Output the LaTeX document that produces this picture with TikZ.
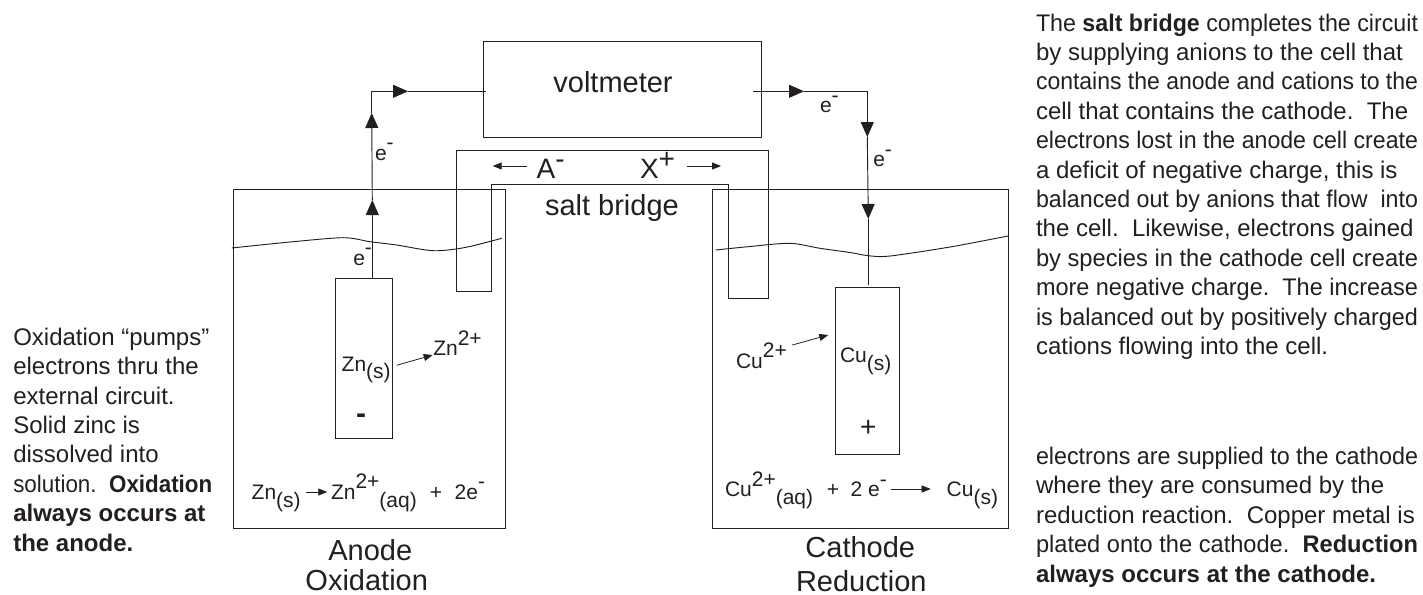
\documentclass[tikz,border=0pt]{standalone}
\usepackage{fontspec}
\usepackage{graphicx}
\setmainfont{Liberation Sans}
\usetikzlibrary{arrows.meta}
\definecolor{ink}{HTML}{231F20}
\newcommand\upr[1]{\raisebox{.5em}{#1}}
\newcommand\upl[1]{\raisebox{.36em}{#1}}
\newcommand\lwr[1]{\raisebox{-.38em}{#1}}
\newsavebox\flbox
% squeeze a line horizontally to a column width, as the reference does
\newcommand\fitl[2]{\sbox\flbox{#2}\ifdim\wd\flbox>#1\relax\resizebox{#1}{\height}{\usebox\flbox}\else\usebox\flbox\fi}
\newcommand\rcol[1]{\fitl{286.5pt}{#1}}
\newcommand\lcol[1]{\fitl{149.25pt}{#1}}
\tikzset{
  line/.style={draw=ink,line width=.7pt},
  wire/.style={line,line cap=butt},
  bighead/.style={wire,-{Triangle[length=11.25pt,width=9.75pt]}},
  smallhead/.style={wire,line width=.6pt,-{Triangle[length=6.75pt,width=5.25pt]}},
  boxnode/.style={line,inner sep=0pt,outer sep=0pt,anchor=north west},
  lab/.style={inner sep=0pt,outer sep=0pt,anchor=base west,text=ink},
  chem/.style={lab,font=\fontsize{15.75}{18}\selectfont},
  big/.style={lab,font=\fontsize{21.75}{26}\selectfont},
  ion/.style={lab,font=\fontsize{21}{25}\selectfont},
  para/.style={lab,align=left,font=\fontsize{18}{22.05}\selectfont},
}
\begin{document}
\begin{tikzpicture}[x=.75pt,y=-.75pt]
\useasboundingbox (0,0) rectangle (1423,594);
% cells
\node[boxnode,minimum width=271.5*.75pt,minimum height=339.2*.75pt] (anodecell) at (233.5,189.5) {};
\node[boxnode,minimum width=295.7*.75pt,minimum height=339.2*.75pt] (cathodecell) at (712.3,189.5) {};
% salt bridge
\draw[line] (456.7,291.7) coordinate (sbA) -- (456.7,150.3) -- (768.7,150.3) -- (768.7,298.7) -- (728.7,298.7) -- (728.7,184.7) -- (491.7,184.7) -- (491.7,291.7) -- cycle;
% solution levels
\draw[line] plot[smooth,tension=.5] coordinates {(231.7,248) (290,242) (343.3,237.7) (370,241.7) (396.7,245) (433.3,250.7) (465,247.5) (501.7,238.3)};
\draw[line] plot[smooth,tension=.5] coordinates {(715.7,250) (750,246.5) (790,243.3) (820,248.3) (850,252.5) (868.3,255.7) (890,256) (950,247) (1008,236)};
% electrodes and voltmeter
\node[boxnode,minimum width=57.4*.75pt,minimum height=160*.75pt] (zn) at (335.3,278.3) {};
\node[boxnode,minimum width=64*.75pt,minimum height=166.3*.75pt] (cu) at (835.3,287.7) {};
\node[boxnode,minimum width=278*.75pt,minimum height=96*.75pt] (volt) at (483,41) {};
\node[big,anchor=base] (volttext) at (613,92) {voltmeter};
% wire coordinates
\coordinate (zntop) at (372.3,278.3);
\coordinate (t1) at (372.3,200);
\coordinate (t2) at (371.7,113);
\coordinate (c1) at (371.7,91.3);
\coordinate (t3) at (408,91.3);
\coordinate (vin) at (485.7,91.3);
\coordinate (vout) at (753,91.3);
\coordinate (t4) at (804,91.3);
\coordinate (c2) at (867.3,91.3);
\coordinate (t5) at (867.3,137);
\coordinate (t6) at (868.3,219);
\coordinate (cutop) at (868.3,285);
\draw[bighead] (zntop) -- (t1);
\draw[bighead] (t1) -- (t2);
\draw[wire] (t2) -- (c1);
\draw[bighead] (c1) -- (t3);
\draw[wire] (t3) -- (vin);
\draw[bighead] (vout) -- (t4);
\draw[wire] (t4) -- (c2);
\draw[bighead] (c2) -- (t5);
\draw[bighead] (t5) -- (t6);
\draw[wire] (t6) -- (cutop);
% electron labels
\node[chem] (e1) at (375,160) {e\upr{-}};
\node[chem] (e2) at (353.3,265) {e\upr{-}};
\node[chem] (e3) at (820,112.7) {e\upr{-}};
\node[chem] (e4) at (873.3,166.7) {e\upr{-}};
% salt bridge labels
\node[ion] (aion) at (536.7,178.3) {A\upl{-}};
\node[ion] (xion) at (640,178.3) {X\upl{+}};
\coordinate (al) at (526.7,166);
\coordinate (ar) at (492.7,166);
\coordinate (xl) at (687.3,166);
\coordinate (xr) at (721,166);
\draw[smallhead] (al) -- (ar);
\draw[smallhead] (xl) -- (xr);
\node[big] (sb) at (545,215) {salt bridge};
% anode labels
\node[chem] (zns) at (341.7,371) {Zn\lwr{(s)}};
\node[chem] (zn2) at (433.3,355.7) {Zn\upr{2+}};
\draw[smallhead] (396.7,365.3) coordinate (za) -- (432.7,355) coordinate (zb);
\node[lab,font=\fontsize{22.5}{26}\selectfont\bfseries,anchor=base] (minus) at (361,423) {-};
\node[chem] (zneq1) at (251.7,499.3) {Zn\lwr{(s)}};
\node[chem] (zneq2) at (331,499.3) {Zn\upr{2+}\lwr{(aq)}\hspace{.62em}+\hspace{.6em}2e\upr{-}};
\draw[smallhead] (306,492) coordinate (zc) -- (327.3,492) coordinate (zd);
\node[big,anchor=base] (anode) at (370.3,560) {Anode};
\node[big,anchor=base] (oxid) at (366.7,590) {Oxidation};
% cathode labels
\node[chem] (cu2) at (736,368.3) {Cu\upr{2+}};
\draw[smallhead] (792.3,345) coordinate (ca) -- (828.3,335) coordinate (cb);
\node[chem] (cus) at (840,362.3) {Cu\lwr{(s)}};
\node[lab,font=\fontsize{21}{25}\selectfont,anchor=base] (plus) at (868.3,436) {+};
\node[chem] (cueq1) at (725,496.7) {Cu\upr{2+}\lwr{(aq)}\hspace{.65em}+\hspace{.55em}2 e\upr{-}};
\draw[smallhead] (891,489) coordinate (cc) -- (930.7,489) coordinate (cd);
\node[chem] (cueq2) at (946.7,496.7) {Cu\lwr{(s)}};
\node[big,anchor=base] (cathode) at (860.3,557.3) {Cathode};
\node[big,anchor=base] (reduct) at (861.3,591.7) {Reduction};
% paragraphs
\node[para] (ptop) at (1036,354.4) {\rcol{The \textbf{salt bridge} completes the circuit}\\\rcol{by supplying anions to the cell that}\\\rcol{contains the anode and cations to the}\\\rcol{cell that contains the cathode.\ \ The}\\\rcol{electrons lost in the anode cell create}\\\rcol{a deficit of negative charge, this is}\\\rcol{balanced out by anions that flow\ \ into}\\\rcol{the cell.\ \ Likewise, electrons gained}\\\rcol{by species in the cathode cell create}\\\rcol{more negative charge.\ \ The increase}\\\rcol{is balanced out by positively charged}\\\rcol{cations flowing into the cell.}};
\node[para] (pbot) at (1036,582) {\rcol{electrons are supplied to the cathode}\\\rcol{where they are consumed by the}\\\rcol{reduction reaction.\ \ Copper metal is}\\\rcol{plated onto the cathode.\ \ \textbf{Reduction}}\\\rcol{\textbf{always occurs at the cathode.}}};
\node[para] (pleft) at (13.3,551) {\lcol{Oxidation “pumps”}\\\lcol{electrons thru the}\\\lcol{external circuit.}\\\lcol{Solid zinc is}\\\lcol{dissolved into}\\\lcol{solution.\ \ \textbf{Oxidation}}\\\lcol{\textbf{always occurs at}}\\\lcol{\textbf{the anode.}}};
\end{tikzpicture}
\end{document}
